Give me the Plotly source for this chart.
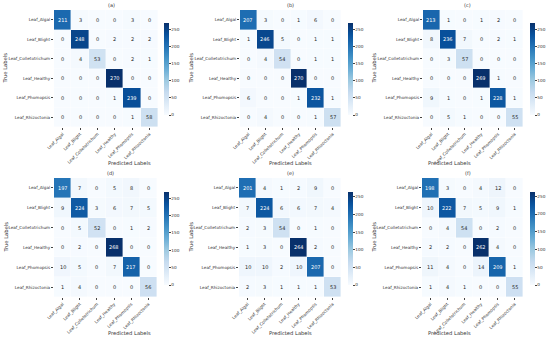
import plotly.graph_objects as go

labels = ["Leaf_Algal", "Leaf_Blight", "Leaf_Colletotrichum", "Leaf_Healthy", "Leaf_Phomopsis", "Leaf_Rhizoctonia"]
titles = ["(a)", "(b)", "(c)", "(d)", "(e)", "(f)"]

cm_a = [[211, 3, 0, 0, 3, 0],
        [0, 248, 0, 2, 2, 2],
        [0, 4, 53, 0, 2, 1],
        [0, 0, 0, 270, 0, 0],
        [0, 0, 0, 1, 239, 0],
        [0, 0, 0, 0, 1, 58]]
cm_b = [[207, 3, 0, 1, 6, 0],
        [1, 246, 5, 0, 1, 1],
        [0, 4, 54, 0, 1, 1],
        [0, 0, 0, 270, 0, 0],
        [6, 0, 0, 1, 232, 1],
        [0, 4, 0, 0, 1, 57]]
cm_c = [[213, 1, 0, 1, 2, 0],
        [8, 236, 7, 0, 2, 1],
        [0, 3, 57, 0, 0, 0],
        [0, 0, 0, 269, 1, 0],
        [9, 1, 0, 1, 228, 1],
        [0, 5, 1, 0, 0, 55]]
cm_d = [[197, 7, 0, 5, 8, 0],
        [9, 224, 3, 6, 7, 5],
        [0, 5, 52, 0, 1, 2],
        [0, 2, 0, 268, 0, 0],
        [10, 5, 0, 7, 217, 0],
        [1, 4, 0, 0, 0, 56]]
cm_e = [[201, 4, 1, 2, 9, 0],
        [7, 224, 6, 6, 7, 4],
        [2, 3, 54, 0, 1, 0],
        [1, 3, 0, 264, 2, 0],
        [10, 10, 2, 10, 207, 0],
        [2, 3, 1, 1, 1, 53]]
cm_f = [[198, 3, 0, 4, 12, 0],
        [10, 222, 7, 5, 9, 1],
        [0, 4, 54, 0, 2, 0],
        [2, 2, 0, 262, 4, 0],
        [11, 4, 0, 14, 209, 1],
        [1, 4, 1, 0, 0, 55]]
matrices = [cm_a, cm_b, cm_c, cm_d, cm_e, cm_f]
cbar_ticks = [0, 50, 100, 150, 200, 250]

W, H = 550, 340
blues = ["#f7fbff", "#deebf7", "#c6dbef", "#9ecae1", "#6baed6",
         "#4292c6", "#2171b5", "#08519c", "#08306b"]
colorscale = [[i / (len(blues) - 1), c] for i, c in enumerate(blues)]

# pixel layout for each panel: heatmap left, right, top, bottom; colorbar x, top, bottom
panels = [
    (54, 158, 10, 127, 164, 23, 115),
    (240, 341, 10, 127, 348, 23, 115),
    (423, 523, 10, 127, 530, 23, 115),
    (54, 157, 178, 297, 164, 192, 285),
    (239, 341, 178, 297, 348, 192, 285),
    (422, 523, 178, 297, 530, 192, 285),
]

fx = lambda px: px / W
fy = lambda py: 1 - py / H

fig = go.Figure()
annotations = []
font = "DejaVu Sans"
txt = "#333333"
layout = {}
for i, (cm, (l, r, t, b, cx, ct, cb)) in enumerate(zip(matrices, panels)):
    n = i + 1
    xa = "x" if n == 1 else f"x{n}"
    ya = "y" if n == 1 else f"y{n}"
    zmax = max(max(row) for row in cm)
    zmin = min(min(row) for row in cm)
    fig.add_trace(go.Heatmap(
        z=cm, x=labels, y=labels, xaxis=xa, yaxis=ya,
        colorscale=colorscale, zmin=zmin, zmax=zmax, xgap=0.4, ygap=0.4,
        hoverinfo="skip",
        colorbar=dict(
            x=fx(cx), xanchor="left", y=fy(ct), yanchor="top",
            len=cb - ct, lenmode="pixels", thickness=5, thicknessmode="pixels",
            tickvals=cbar_ticks, ticks="outside", ticklen=2, tickwidth=0.5,
            tickcolor="#444", tickfont=dict(size=4.2, color=txt, family=font),
            outlinewidth=0, xpad=0, ypad=0,
        ),
    ))
    for ri, row in enumerate(cm):
        for ci, v in enumerate(row):
            annotations.append(dict(
                x=labels[ci], y=labels[ri], xref=xa, yref=ya, text=str(v),
                showarrow=False,
                font=dict(size=5, family=font,
                          color="white" if v > 0.45 * zmax else "#262626"),
            ))
    axname_x = "xaxis" if n == 1 else f"xaxis{n}"
    axname_y = "yaxis" if n == 1 else f"yaxis{n}"
    layout[axname_x] = dict(
        domain=[fx(l), fx(r)], anchor=ya, tickangle=-45,
        tickfont=dict(size=4.2, color=txt, family=font),
        ticks="outside", ticklen=2, tickwidth=0.5, tickcolor="#444",
        showgrid=False, zeroline=False, showline=False,
    )
    layout[axname_y] = dict(
        domain=[fy(b), fy(t)], anchor=xa, autorange="reversed",
        tickfont=dict(size=4.2, color=txt, family=font),
        ticks="outside", ticklen=2, tickwidth=0.5, tickcolor="#444",
        showgrid=False, zeroline=False, showline=False,
    )
    # panel title
    annotations.append(dict(
        x=fx((l + r) / 2), y=fy(t - 5), xref="paper", yref="paper",
        text=titles[i], showarrow=False, yanchor="middle",
        font=dict(size=5, color=txt, family=font),
    ))
    # x axis title
    annotations.append(dict(
        x=fx((l + r) / 2), y=fy(b + 36), xref="paper", yref="paper",
        text="Predicted Labels", showarrow=False, yanchor="middle",
        font=dict(size=5.2, color=txt, family=font),
    ))
    # y axis title
    annotations.append(dict(
        x=fx(l - 49), y=fy((t + b) / 2), xref="paper", yref="paper",
        text="True Labels", showarrow=False, xanchor="center", yanchor="middle",
        textangle=-90, font=dict(size=5.2, color=txt, family=font),
    ))

fig.update_layout(
    width=W, height=H, margin=dict(l=0, r=0, t=0, b=0, autoexpand=False),
    paper_bgcolor="white", plot_bgcolor="white",
    annotations=annotations, **layout,
)
fig.write_html(
    "out.html",
    config={"displayModeBar": False},
    post_script="document.body.style.margin='0';document.body.style.overflow='hidden';",
)
